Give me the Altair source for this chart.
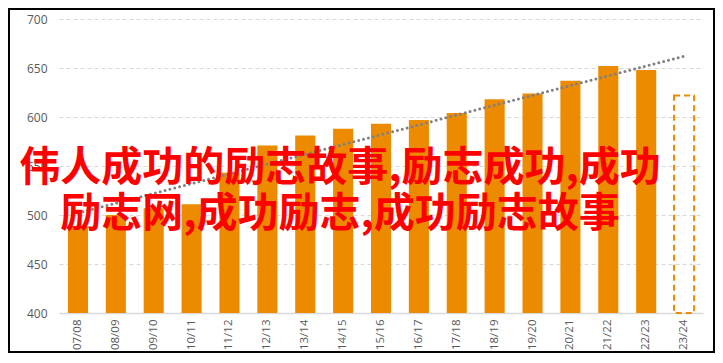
import altair as alt
import pandas as pd

# ---- data ----
seasons = ["07/08", "08/09", "09/10", "10/11", "11/12", "12/13", "13/14", "14/15",
           "15/16", "16/17", "17/18", "18/19", "19/20", "20/21", "21/22", "22/23", "23/24"]
values = [488, 500, 507, 511, 543, 571, 581, 588, 593, 597, 604, 618, 624, 637, 652, 648, 622]
kind = ["actual"] * 16 + ["forecast"]

trend_seasons = ["07/08", "23/24"]
trend_values = [502, 662]

y_ticks = [400, 450, 500, 550, 600, 650, 700]

title_lines = ["伟人成功的励志故事,励志成功,成功", "励志网,成功励志,成功励志故事"]

ORANGE = "#ED8B00"
GREY_TXT = "#595959"

df = pd.DataFrame({"season": seasons, "value": values, "kind": kind})
trend_df = pd.DataFrame({"season": trend_seasons, "value": trend_values})

x_scale = alt.Scale(domain=seasons, paddingInner=0.47, paddingOuter=0.235)
y_scale = alt.Scale(domain=[400, 700], zero=False, nice=False)

x_enc = alt.X("season:N", scale=x_scale, sort=seasons,
              axis=alt.Axis(title=None, labelAngle=-90, labelFont="Open Sans",
                            labelFontSize=11.5, labelColor=GREY_TXT, ticks=False,
                            domainColor="#D9D9D9", domainWidth=1.5, labelPadding=6))
y_enc = alt.Y("value:Q", scale=y_scale,
              axis=alt.Axis(title=None, values=y_ticks, labelFont="Open Sans",
                            labelFontSize=12, labelColor=GREY_TXT, ticks=False,
                            domain=False, grid=True, gridColor="#D9D9D9",
                            gridDash=[4, 3], labelPadding=12))

bars = alt.Chart(df).transform_filter(alt.datum.kind == "actual").mark_bar(
    color=ORANGE
).encode(x=x_enc, y=y_enc, y2=alt.datum(400))

forecast = alt.Chart(df).transform_filter(alt.datum.kind == "forecast").mark_bar(
    fill="transparent", stroke=ORANGE, strokeWidth=2, strokeDash=[6, 4]
).encode(x=x_enc, y=y_enc, y2=alt.datum(400))

trend = alt.Chart(trend_df).mark_line(
    color="#808080", strokeWidth=3, strokeDash=[0, 5], strokeCap="round"
).encode(x=x_enc, y=y_enc)

frame_df = pd.DataFrame({"f": [1]})
frame = alt.Chart(frame_df).mark_rect(
    fill="transparent", stroke="black", strokeWidth=2
).encode(x=alt.value(-50), x2=alt.value(655), y=alt.value(-10), y2=alt.value(333))

t1 = alt.Chart(pd.DataFrame({"t": [title_lines[0]]})).mark_text(
    font="Noto Sans CJK SC", fontWeight="bold", fontSize=41, color="#FF0000",
    align="center", baseline="middle"
).encode(text="t:N", x=alt.value(281), y=alt.value(150))

t2 = alt.Chart(pd.DataFrame({"t": [title_lines[1]]})).mark_text(
    font="Noto Sans CJK SC", fontWeight="bold", fontSize=41, color="#FF0000",
    align="center", baseline="middle"
).encode(text="t:N", x=alt.value(281), y=alt.value(196))

chart = alt.layer(bars, forecast, trend, t1, t2, frame).properties(
    width=644, height=294,
    autosize=alt.AutoSizeParams(type="none"),
    padding={"left": 51, "top": 11, "right": 12, "bottom": 40},
    background="white",
).configure_view(stroke=None)

chart.save("out.html", embed_options={"renderer": "svg", "actions": False})
